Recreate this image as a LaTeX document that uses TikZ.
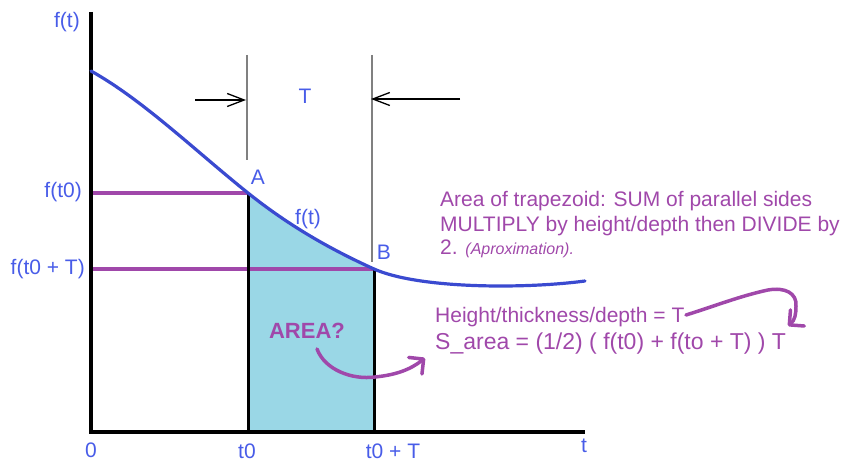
\documentclass[tikz,border=0pt]{standalone}
\usepackage{fontspec}
\setmainfont{Liberation Sans}
\usetikzlibrary{arrows.meta}
\definecolor{curveblue}{RGB}{58,74,208}
\definecolor{txtblue}{RGB}{72,92,232}
\definecolor{purp}{RGB}{160,72,170}
\definecolor{areafill}{RGB}{154,215,230}
\definecolor{guidegray}{RGB}{128,128,128}
\tikzset{
  lbl/.style={inner sep=0pt, text=txtblue, font=\fontsize{21}{24}\selectfont},
  ptxt/.style={inner sep=0pt, text=purp, font=\fontsize{21}{24}\selectfont},
  axisline/.style={line width=4pt, black},
  tline/.style={line width=3pt, black},
  hline/.style={line width=3.5pt, purp},
  guide/.style={line width=1.2pt, guidegray},
  dimarrow/.style={line width=1.3pt, black, -{Straight Barb[length=17pt,width=13pt,line width=1.3pt]}},
  handarrow/.style={line width=3.5pt, purp, line cap=round, line join=round,
     -{Straight Barb[angle=90:15pt,line width=3.5pt,line cap=round,line join=round]}}
}
\begin{document}
\begin{tikzpicture}[x=1pt,y=-1pt]
\useasboundingbox (0,0) rectangle (847,462);
% coordinates
\coordinate (O) at (91,432);
\coordinate (Ytop) at (91,12);
\coordinate (Xend) at (585,432);
\coordinate (S) at (91,71);
\coordinate (A) at (248,193);
\coordinate (B) at (374,269);
\coordinate (E) at (585,281);
\coordinate (A0) at (248,432);
\coordinate (B0) at (374,432);
\coordinate (YA) at (91,193);
\coordinate (YB) at (91,269);
% filled area
\fill[areafill] (A0) -- (A) .. controls (290,226.6) and (332,250) .. (B) -- (B0) -- cycle;
% purple level lines
\draw[hline] (YA) -- (A);
\draw[hline] (YB) -- (B);
% vertical lines
\draw[tline] (A) -- (A0);
\draw[tline] (B) -- (B0);
% axes
\draw[axisline, line join=miter] (Ytop) -- (O) -- (Xend);
% curve
\draw[line width=3.2pt, curveblue, line cap=round]
  (S) .. controls (143,100) and (196,151.4) .. (A)
      .. controls (290,226.6) and (332,250) .. (B)
      .. controls (419,289) and (525,289) .. (E);
% guide lines and T dimension
\coordinate (G1t) at (247,55); \coordinate (G1b) at (247,160);
\coordinate (G2t) at (372,55); \coordinate (G2b) at (372,262);
\draw[guide] (G1t) -- (G1b);
\draw[guide] (G2t) -- (G2b);
\coordinate (L1) at (195,100); \coordinate (L2) at (246,100);
\coordinate (R1) at (460,99); \coordinate (R2) at (371,99);
\draw[dimarrow] (L1) -- (L2);
\draw[dimarrow] (R1) -- (R2);
\node[lbl, anchor=base] (Tlbl) at (305,104) {T};
% axis labels
\node[lbl, anchor=east] (ft) at (80,22) {f(t)};
\node[lbl, anchor=east] (ft0) at (82,192) {f(t0)};
\node[lbl, anchor=east] (ft0T) at (85,269) {f(t0 + T)};
\node[lbl, anchor=base] (zero) at (91,458) {0};
\node[lbl, anchor=base] (t0) at (247,459) {t0};
\node[lbl, anchor=base] (t0T) at (393,459) {t0 + T};
\node[lbl, anchor=base] (tlab) at (584,453) {t};
% point labels
\node[lbl, anchor=base] (Alab) at (258,185) {A};
\node[lbl, anchor=base] (Blab) at (384,260) {B};
\node[lbl] (fcurve) at (308,219) {f(t)};
% text block
\node[ptxt, anchor=base west] (l1) at (440,207) {Area of trapezoid: SUM of parallel sides};
\node[ptxt, anchor=base west] (l2) at (440,232) {MULTIPLY by height/depth then DIVIDE by};
\node[ptxt, anchor=base west] (l3) at (440,255) {2. {\fontsize{16}{18}\selectfont\itshape (Aproximation).}};
\node[ptxt, anchor=base west] (hgt) at (435,323) {Height/thickness/depth = T};
\node[ptxt, anchor=base west, font=\fontsize{23}{26}\selectfont] (sarea) at (435,350) {S\_area = (1/2) ( f(t0) + f(to + T) ) T};
\node[ptxt, anchor=base, font=\fontsize{22}{26}\selectfont\bfseries] (areaq) at (307,339) {AREA?};
% hand-drawn arrows
\coordinate (h1s) at (317,349);
\coordinate (h1e) at (425,358);
\draw[handarrow] (h1s) .. controls (325,370) and (352,380) .. (375,377)
   .. controls (395,375) and (410,370) .. (h1e);
\coordinate (h2s) at (686,315);
\coordinate (h2e) at (788,326);
\draw[handarrow] (h2s) .. controls (715,306) and (740,296) .. (768,290)
   .. controls (785,287) and (797,293) .. (796,306)
   .. controls (796,314) and (795,320) .. (h2e);
\end{tikzpicture}
\end{document}
